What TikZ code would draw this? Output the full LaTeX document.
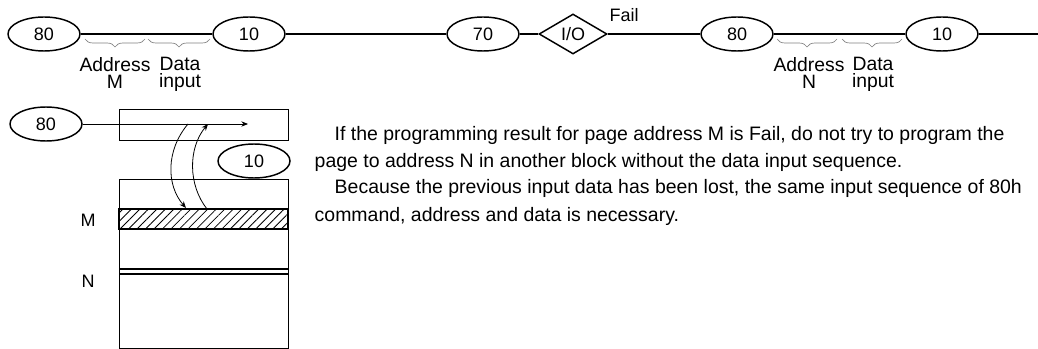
\documentclass[tikz,border=0pt]{standalone}
\usepackage{fontspec}
\setmainfont{Liberation Sans}
\usetikzlibrary{positioning,arrows.meta,shapes.geometric,patterns.meta,decorations.pathreplacing}

\begin{document}
\begin{tikzpicture}[x=0.75pt,y=-0.75pt,>={Stealth[length=5pt,width=4pt]},
  cmd/.style={draw,ellipse,line width=1.1pt,minimum width=54pt,minimum height=25.5pt,inner sep=0pt,font=\fontsize{13.5}{16}\selectfont},
  chk/.style={draw,diamond,line width=1.1pt,minimum width=51pt,minimum height=30pt,inner sep=0pt,font=\fontsize{13.5}{16}\selectfont},
  lbl/.style={align=center,anchor=north,inner sep=0pt,font=\fontsize{14.5}{13}\selectfont},
  brc/.style={draw=gray,line width=0.5pt,decorate,decoration={brace,mirror,amplitude=6pt}},
  note/.style={anchor=base west,font=\fontsize{14.6}{17}\selectfont}]
  \useasboundingbox (0,0) rectangle (1038,349);

  % command sequence
  \node[cmd] (c80a) at (44,34) {80};
  \node[cmd] (c10a) at (249,34) {10};
  \node[cmd] (c70) at (483,34) {70};
  \node[chk] (io) at (573,34) {I/O};
  \node[cmd] (c80b) at (737,34) {80};
  \node[cmd] (c10b) at (942,34) {10};
  \coordinate (end) at (1038,34);
  \node[font=\fontsize{13.5}{16}\selectfont] (fail) at (624,15) {Fail};

  \draw[line width=1.4pt] (c80a) -- (c10a) -- (c70) -- (io) -- (c80b) -- (c10b) -- (end);

  \draw[brc] (85,39) -- (145,39);
  \draw[brc] (148,39) -- (210,39);
  \draw[brc] (777,39) -- (837,39);
  \draw[brc] (842,39) -- (902,39);

  \node[lbl] (adrm) at (115,57) {Address\\M};
  \node[lbl] (dinm) at (180,57) {Data\\input};
  \node[lbl] (adrn) at (809,57) {Address\\N};
  \node[lbl] (dinn) at (873,57) {Data\\input};

  % page buffer and cell array
  \node[draw,line width=0.8pt,anchor=north west,minimum width=126.75pt,minimum height=23.25pt,inner sep=0pt] (reg) at (119,109) {};
  \node[draw,line width=0.8pt,anchor=north west,minimum width=126.75pt,minimum height=126.75pt,inner sep=0pt] (arr) at (119,179) {};
  \draw[line width=1pt,pattern={Lines[angle=45,distance=4.5pt,line width=0.6pt]}] (119,209) rectangle (288,229);
  \draw[line width=1pt] (119,269) -- (288,269) (119,274) -- (288,274);
  \node[font=\fontsize{13.5}{16}\selectfont] (pm) at (88,220) {M};
  \node[font=\fontsize{13.5}{16}\selectfont] (pn) at (88,281) {N};

  \node[cmd] (s80) at (46,124) {80};
  \node[cmd] (s10) at (254,161) {10};
  \coordinate (tip) at (248,124);
  \draw[->,line width=0.6pt] (s80) -- (tip);

  \coordinate (outa) at (188,124);
  \coordinate (ina) at (186,208);
  \coordinate (outb) at (207,209);
  \coordinate (inb) at (208,124);
  \draw[->,line width=0.6pt] (outa) .. controls (166,150) and (166,185) .. (ina);
  \draw[->,line width=0.6pt] (outb) .. controls (188,185) and (188,148) .. (inb);

  % explanation
  \node[note] (t1) at (330,141) {If the programming result for page address M is Fail, do not try to program the};
  \node[note] (t2) at (310,167) {page to address N in another block without the data input sequence.};
  \node[note] (t3) at (330,194) {Because the previous input data has been lost, the same input sequence of 80h};
  \node[note] (t4) at (310,221) {command, address and data is necessary.};
\end{tikzpicture}
\end{document}
